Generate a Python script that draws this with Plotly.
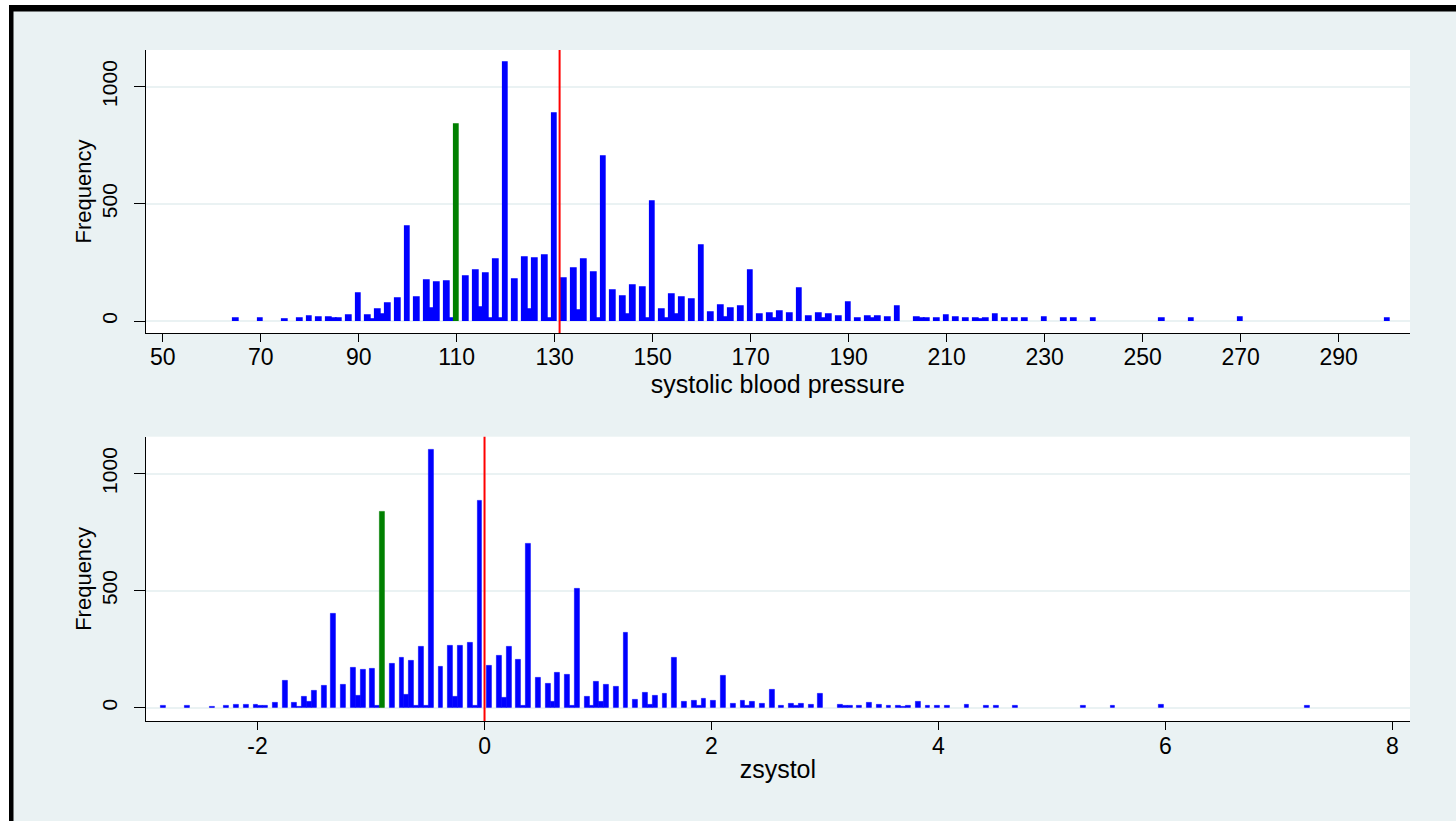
import plotly.graph_objects as go

# ---- data (systolic blood pressure, discrete bins of width 1) ----
sbp_values = [65, 70, 75, 78, 80, 82, 84, 85, 86, 88, 90, 92, 93, 94, 95, 96, 98,
              100, 102, 104, 105, 106, 108, 109, 110, 112, 114, 115, 116, 117, 118, 119,
              120, 122, 124, 125, 126, 128, 129, 130, 132, 134, 135, 136, 138, 139,
              140, 142, 144, 145, 146, 148, 149, 150, 152, 153, 154, 155, 156, 158,
              160, 162, 164, 165, 166, 168, 170, 172, 174, 175, 176, 178,
              180, 182, 184, 185, 186, 188, 190, 192, 194, 195, 196, 198,
              200, 204, 205, 206, 208, 210, 212, 214, 216, 217, 218, 220, 222, 224, 226,
              230, 234, 236, 240, 254, 260, 270, 300]
frequency = [7, 7, 6, 8, 15, 13, 11, 8, 10, 21, 114, 21, 4, 47, 24, 73, 92,
             400, 98, 171, 53, 164, 167, 8, 836, 188, 212, 57, 200, 7, 260, 9,
             1101, 175, 267, 49, 265, 276, 7, 883, 179, 221, 44, 260, 205, 8,
             700, 128, 103, 26, 149, 142, 7, 508, 48, 7, 111, 25, 97, 90,
             320, 33, 64, 12, 53, 60, 213, 26, 31, 10, 38, 28,
             137, 18, 28, 10, 26, 18, 77, 10, 17, 7, 16, 14,
             58, 11, 7, 7, 8, 23, 11, 7, 10, 6, 8, 26, 7, 8, 8,
             13, 8, 8, 8, 10, 10, 11, 8]
highlight_value = 110          # bar drawn in green
SBP_MEAN = 131.0               # red reference line (mean)
SBP_SD = 23.3                  # standard deviation used for zsystol

# zsystol is the standardised version of the same variable
zsystol = [(v - SBP_MEAN) / SBP_SD for v in sbp_values]

top_ticks = list(range(50, 291, 20))
bottom_ticks = [-2, 0, 2, 4, 6, 8]
bottom_ticktext = ["-2", "0", "2", "4", "6", "8"]
y_ticks = [0, 500, 1000]

# ---- styling ----
W, H = 1456, 821
BG = "#EAF2F3"
BLUE = "#0000FF"
GREEN = "#008000"
FONT = "Liberation Sans, Arial, Helvetica, sans-serif"

colors = [GREEN if v == highlight_value else BLUE for v in sbp_values]

def px_x(p):
    return p / W

def px_y(p):
    return 1 - p / H

fig = go.Figure()
fig.add_trace(go.Bar(x=sbp_values, y=frequency, width=1.0,
                     marker=dict(color=colors, line=dict(color=colors, width=1.8)),
                     xaxis="x", yaxis="y", showlegend=False))
fig.add_trace(go.Bar(x=zsystol, y=frequency, width=1.0 / SBP_SD,
                     marker=dict(color=colors, line=dict(color=colors, width=0.6)),
                     xaxis="x2", yaxis="y2", showlegend=False))

axis_common = dict(showline=True, linecolor="#000000", linewidth=1.3, ticks="outside",
                   tickcolor="#000000", tickwidth=1.3, zeroline=False, automargin=False)
xtickfont = dict(family=FONT, size=23, color="#000000")
ytickfont = dict(family=FONT, size=21, color="#000000")
xtitlefont = dict(family=FONT, size=25, color="#000000")
ytitlefont = dict(family=FONT, size=22, color="#000000")

xdom = [px_x(145.7), px_x(1410)]
fig.update_layout(
    width=W, height=H,
    margin=dict(l=0, r=0, t=0, b=0),
    paper_bgcolor=BG, plot_bgcolor="#FFFFFF",
    bargap=0, barmode="overlay",
    xaxis=dict(domain=xdom, range=[46.53, 304.55], tickvals=top_ticks, ticklen=8,
               showgrid=False, anchor="y", tickfont=xtickfont, ticklabelstandoff=-5,
               title=dict(text="systolic blood pressure", standoff=0, font=xtitlefont),
               **axis_common),
    yaxis=dict(domain=[px_y(333), px_y(50)], range=[-51.2, 1156.6], tickvals=y_ticks,
               ticklen=11, tickangle=-90, showgrid=True, gridcolor=BG, gridwidth=1.5,
               anchor="x", ticklabelstandoff=8, tickfont=ytickfont,
               title=dict(text="Frequency", standoff=0, font=ytitlefont),
               **axis_common),
    xaxis2=dict(domain=xdom, range=[-2.986, 8.156], tickvals=bottom_ticks,
                ticktext=bottom_ticktext, ticklen=8, showgrid=False, anchor="y2",
                tickfont=xtickfont, ticklabelstandoff=-4,
                title=dict(text="zsystol", standoff=2, font=xtitlefont),
                **axis_common),
    yaxis2=dict(domain=[px_y(721), px_y(436.7)], range=[-56.8, 1158], tickvals=y_ticks,
                ticklen=11, tickangle=-90, showgrid=True, gridcolor=BG, gridwidth=1.5,
                anchor="x2", ticklabelstandoff=8, tickfont=ytickfont,
                title=dict(text="Frequency", standoff=0, font=ytitlefont),
                **axis_common),
)

shapes = [
    # mean lines
    dict(type="line", xref="x", yref="y domain", x0=SBP_MEAN, x1=SBP_MEAN, y0=0, y1=1,
         line=dict(color="#FF0000", width=2), layer="above"),
    dict(type="line", xref="x2", yref="y2 domain", x0=0, x1=0, y0=0, y1=1,
         line=dict(color="#FF0000", width=2), layer="above"),
    # white outer margin and black frame (left and top edges)
    dict(type="rect", xref="paper", yref="paper", x0=0, x1=px_x(9), y0=0, y1=1,
         fillcolor="#FFFFFF", line=dict(width=0), layer="above"),
    dict(type="rect", xref="paper", yref="paper", x0=0, x1=1, y0=px_y(5), y1=1,
         fillcolor="#FFFFFF", line=dict(width=0), layer="above"),
    dict(type="rect", xref="paper", yref="paper", x0=px_x(9), x1=px_x(13.5), y0=0, y1=px_y(5),
         fillcolor="#000000", line=dict(width=0), layer="above"),
    dict(type="rect", xref="paper", yref="paper", x0=px_x(9), x1=1, y0=px_y(11.5), y1=px_y(5),
         fillcolor="#000000", line=dict(width=0), layer="above"),
]
fig.update_layout(shapes=shapes)

fig.write_html("out.html", config={"displayModeBar": False},
               post_script="document.body.style.margin='0px';")
